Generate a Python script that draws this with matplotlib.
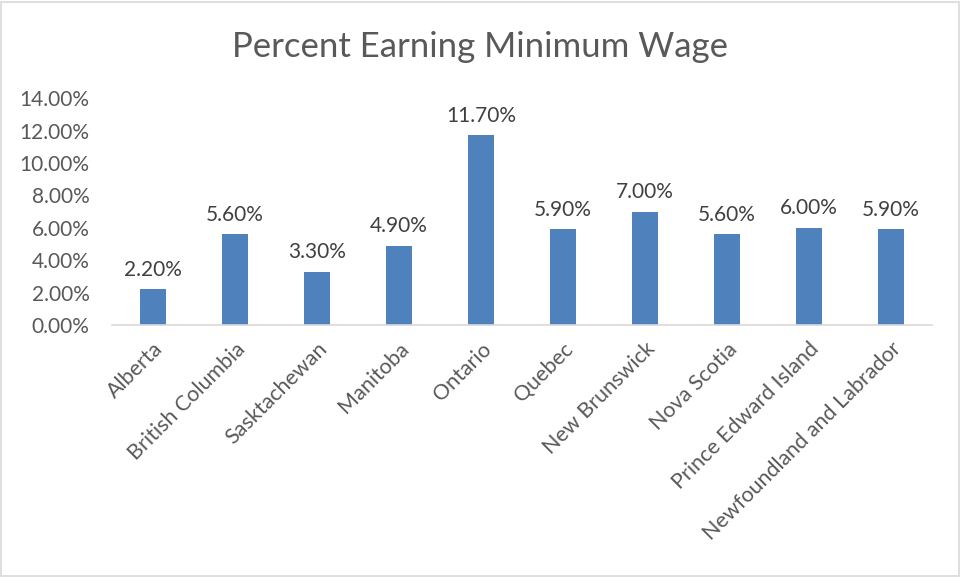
import matplotlib.pyplot as plt
from matplotlib.patches import Rectangle
from matplotlib.ticker import FuncFormatter

provinces = ['Alberta', 'British Columbia', 'Sasktachewan', 'Manitoba', 'Ontario',
             'Quebec', 'New Brunswick', 'Nova Scotia', 'Prince Edward Island',
             'Newfoundland and Labrador']
pct_min_wage = [0.022, 0.056, 0.033, 0.049, 0.117, 0.059, 0.070, 0.056, 0.060, 0.059]

plt.rcParams['font.family'] = ['Lato', 'DejaVu Sans']
text_col = '#595959'

fig = plt.figure(figsize=(9.61, 5.77), dpi=100)
ax = fig.add_axes([0.1165, 0.4367, 0.8533, 0.3933])

x = range(len(provinces))
bars = ax.bar(x, pct_min_wage, width=0.32, color='#4F81BD')

# data labels above the bars
for b, v in zip(bars, pct_min_wage):
    ax.text(b.get_x() + b.get_width() / 2, v + 0.0060, f'{v * 100:.2f}%',
            ha='center', va='bottom', fontsize=15, color='#404040')

ax.set_xlim(-0.5, len(provinces) - 0.5)
ax.set_ylim(0, 0.14)
ax.set_yticks([i * 0.02 for i in range(8)])
ax.yaxis.set_major_formatter(FuncFormatter(lambda v, p: f'{v * 100:.2f}%'))
ax.set_xticks(list(x))
ax.set_xticklabels(provinces, rotation=45, ha='right', rotation_mode='anchor')

ax.tick_params(axis='both', length=0, labelsize=15, colors=text_col)
ax.tick_params(axis='x', pad=10, labelsize=15.5)
ax.tick_params(axis='y', pad=16)
for side in ['top', 'right', 'left']:
    ax.spines[side].set_visible(False)
ax.spines['bottom'].set_color('#D9D9D9')
ax.spines['bottom'].set_linewidth(1.2)

fig.text(0.5, 0.918, 'Percent Earning Minimum Wage', ha='center', va='center',
         fontsize=25, color=text_col)

# light frame around the chart area
fig.patches.append(Rectangle((0.001, 0.002), 0.997, 0.995, transform=fig.transFigure,
                             fill=False, edgecolor='#D9D9D9', linewidth=1.2))

fig.savefig('out.png', dpi=100)
